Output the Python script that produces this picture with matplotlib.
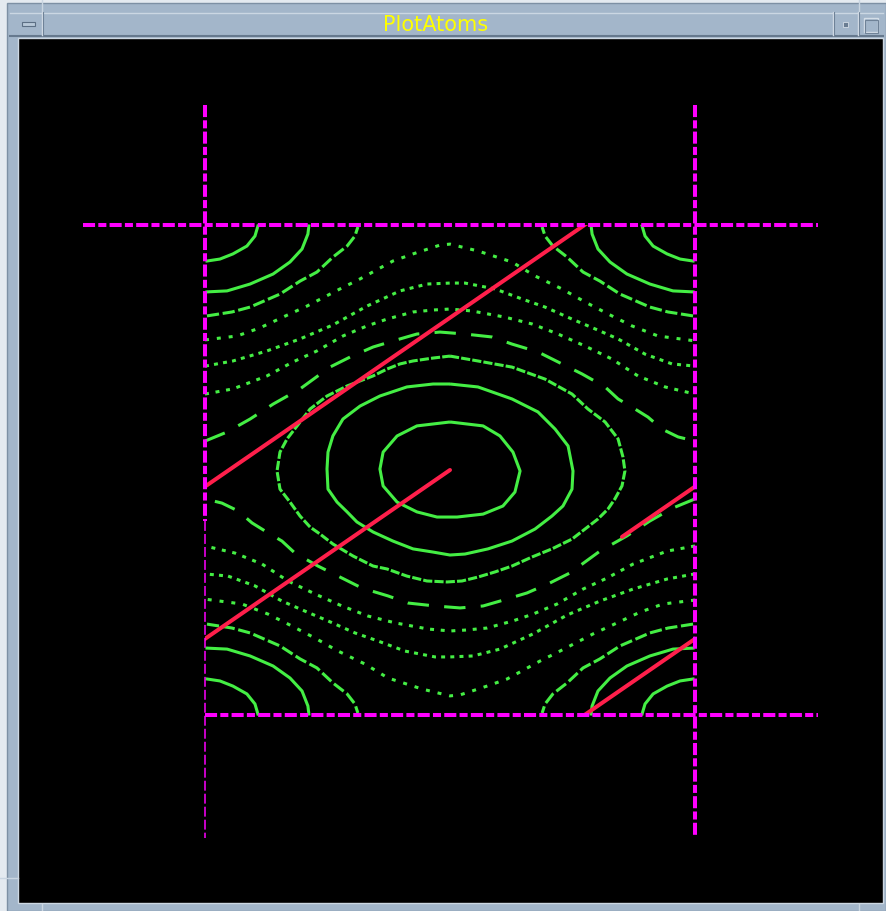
import numpy as np
import matplotlib.pyplot as plt
from matplotlib.patches import Rectangle

# phase plane, the periodic cell spans [-1, 1] x [-1, 1]
inner_ring = [(0.0, 0.196), (0.135, 0.180), (0.204, 0.139), (0.257, 0.073), (0.286, -0.004),
              (0.265, -0.090), (0.216, -0.147), (0.135, -0.180), (0.029, -0.192), (-0.053, -0.192),
              (-0.135, -0.171), (-0.216, -0.131), (-0.273, -0.065), (-0.286, 0.004), (-0.273, 0.073),
              (-0.216, 0.139), (-0.135, 0.180), (0.0, 0.196)]

middle_ring = [(0.0, 0.351), (0.114, 0.339), (0.253, 0.290), (0.359, 0.237), (0.429, 0.167),
               (0.482, 0.098), (0.502, -0.004), (0.498, -0.078), (0.461, -0.147), (0.416, -0.188),
               (0.347, -0.241), (0.253, -0.290), (0.155, -0.322), (0.061, -0.343), (0.0, -0.347),
               (-0.069, -0.335), (-0.151, -0.322), (-0.233, -0.290), (-0.314, -0.253), (-0.380, -0.212),
               (-0.420, -0.171), (-0.461, -0.131), (-0.498, -0.078), (-0.502, 0.004), (-0.498, 0.073),
               (-0.478, 0.139), (-0.437, 0.208), (-0.367, 0.261), (-0.286, 0.302), (-0.176, 0.339),
               (-0.069, 0.351), (0.0, 0.351)]

outer_ring = [(0.0, 0.465), (0.114, 0.445), (0.253, 0.420), (0.388, 0.371), (0.498, 0.310),
              (0.563, 0.249), (0.633, 0.196), (0.686, 0.127), (0.706, 0.053), (0.714, -0.004),
              (0.702, -0.065), (0.673, -0.118), (0.645, -0.159), (0.604, -0.200), (0.551, -0.241),
              (0.498, -0.282), (0.416, -0.322), (0.335, -0.355), (0.253, -0.392), (0.184, -0.416),
              (0.114, -0.437), (0.049, -0.453), (-0.012, -0.457), (-0.094, -0.453), (-0.176, -0.433),
              (-0.257, -0.404), (-0.314, -0.392), (-0.396, -0.351), (-0.478, -0.302), (-0.531, -0.261),
              (-0.571, -0.233), (-0.612, -0.188), (-0.653, -0.131), (-0.694, -0.078), (-0.706, -0.004),
              (-0.694, 0.073), (-0.665, 0.127), (-0.624, 0.180), (-0.571, 0.249), (-0.502, 0.302),
              (-0.420, 0.343), (-0.314, 0.384), (-0.257, 0.412), (-0.204, 0.433), (-0.151, 0.445),
              (-0.069, 0.457), (0.0, 0.465)]

# rotating orbits, upper half
upper_1 = [(-1.0, 0.531), (-0.869, 0.547), (-0.776, 0.580), (-0.682, 0.624), (-0.584, 0.669),
           (-0.449, 0.739), (-0.367, 0.780), (-0.233, 0.853), (-0.151, 0.882), (-0.041, 0.918),
           (0.0, 0.922), (0.114, 0.894), (0.253, 0.849), (0.347, 0.792), (0.457, 0.739),
           (0.551, 0.686), (0.645, 0.637), (0.743, 0.588), (0.849, 0.547), (1.0, 0.527)]
upper_2 = [(-1.0, 0.424), (-0.886, 0.445), (-0.747, 0.486), (-0.612, 0.535), (-0.478, 0.592),
           (-0.339, 0.669), (-0.204, 0.731), (-0.094, 0.759), (0.0, 0.763), (0.061, 0.763),
           (0.184, 0.739), (0.294, 0.698), (0.388, 0.665), (0.498, 0.616), (0.592, 0.576),
           (0.686, 0.535), (0.796, 0.473), (0.906, 0.433), (1.0, 0.424)]
upper_3 = [(-1.0, 0.310), (-0.886, 0.331), (-0.747, 0.384), (-0.641, 0.441), (-0.543, 0.486),
           (-0.437, 0.547), (-0.339, 0.588), (-0.257, 0.616), (-0.151, 0.645), (-0.069, 0.653),
           (0.0, 0.657), (0.090, 0.649), (0.224, 0.624), (0.335, 0.596), (0.441, 0.555),
           (0.551, 0.506), (0.661, 0.453), (0.767, 0.384), (0.878, 0.339), (1.0, 0.310)]
upper_4 = [(-1.0, 0.118), (-0.910, 0.155), (-0.816, 0.208), (-0.722, 0.269), (-0.612, 0.331),
           (-0.490, 0.420), (-0.408, 0.461), (-0.314, 0.502), (-0.204, 0.535), (-0.135, 0.555),
           (-0.041, 0.563), (0.061, 0.555), (0.171, 0.543), (0.253, 0.514), (0.359, 0.482),
           (0.457, 0.433), (0.539, 0.392), (0.633, 0.339), (0.686, 0.290), (0.755, 0.249),
           (0.808, 0.216), (0.865, 0.167), (0.931, 0.135), (1.0, 0.118)]

# rotating orbits, lower half
lower_1 = [(1.0, -0.531), (0.869, -0.547), (0.776, -0.580), (0.682, -0.624), (0.584, -0.669),
           (0.449, -0.739), (0.367, -0.780), (0.233, -0.853), (0.151, -0.882), (0.041, -0.918),
           (0.0, -0.922), (-0.114, -0.894), (-0.253, -0.849), (-0.347, -0.792), (-0.457, -0.739),
           (-0.551, -0.686), (-0.645, -0.637), (-0.743, -0.588), (-0.849, -0.547), (-1.0, -0.527)]
lower_2 = [(1.0, -0.424), (0.886, -0.445), (0.747, -0.486), (0.612, -0.535), (0.478, -0.592),
           (0.339, -0.669), (0.204, -0.731), (0.094, -0.759), (0.0, -0.763), (-0.061, -0.763),
           (-0.184, -0.739), (-0.294, -0.698), (-0.388, -0.665), (-0.498, -0.616), (-0.592, -0.576),
           (-0.686, -0.535), (-0.796, -0.473), (-0.906, -0.433), (-1.0, -0.424)]
lower_3 = [(1.0, -0.310), (0.886, -0.331), (0.747, -0.384), (0.641, -0.441), (0.543, -0.486),
           (0.437, -0.547), (0.339, -0.588), (0.257, -0.616), (0.151, -0.645), (0.069, -0.653),
           (0.0, -0.657), (-0.090, -0.649), (-0.224, -0.624), (-0.335, -0.596), (-0.441, -0.555),
           (-0.551, -0.506), (-0.661, -0.453), (-0.767, -0.384), (-0.878, -0.339), (-1.0, -0.310)]
lower_4 = [(1.0, -0.118), (0.910, -0.155), (0.816, -0.208), (0.722, -0.269), (0.612, -0.331),
           (0.490, -0.420), (0.408, -0.461), (0.314, -0.502), (0.204, -0.535), (0.135, -0.555),
           (0.041, -0.563), (-0.061, -0.555), (-0.171, -0.543), (-0.253, -0.514), (-0.359, -0.482),
           (-0.457, -0.433), (-0.539, -0.392), (-0.633, -0.339), (-0.686, -0.290), (-0.755, -0.249),
           (-0.808, -0.216), (-0.865, -0.167), (-0.931, -0.135), (-1.0, -0.118)]

# islands around the cell corners, given as (inset from side, inset from top/bottom)
corner_1 = [(0.008, 0.147), (0.061, 0.139), (0.114, 0.118), (0.171, 0.086), (0.204, 0.045),
            (0.216, 0.004)]
corner_2 = [(0.008, 0.273), (0.090, 0.269), (0.184, 0.241), (0.278, 0.200), (0.347, 0.151),
            (0.396, 0.098), (0.420, 0.037), (0.424, 0.004)]
corner_3 = [(0.008, 0.371), (0.110, 0.355), (0.184, 0.335), (0.306, 0.282), (0.388, 0.229),
            (0.457, 0.192), (0.522, 0.131), (0.580, 0.086), (0.612, 0.045), (0.624, 0.008)]

# line of initial conditions, unwrapped, plus the cell shifts it passes through
seed_start = (0.0, 0.0)
seed_end = (-3.298, -2.273)
seed_shifts = [(0, 0), (2, 0), (2, 2), (4, 2)]

GREEN = '#44ee44'
RED = '#ff1f4b'
MAGENTA = '#ff00ff'

fig = plt.figure(figsize=(8.86, 9.12), dpi=100)

# window decoration, in pixel units
chrome = fig.add_axes([0, 0, 1, 1])
chrome.set_xlim(0, 886)
chrome.set_ylim(912, 0)
chrome.axis('off')
chrome.add_patch(Rectangle((0, 0), 886, 912, fc='#e4eaf0', ec='none'))
chrome.add_patch(Rectangle((7, 4), 879, 908, fc='#a3b6ca', ec='#7d90a4', lw=1))
chrome.add_patch(Rectangle((10, 13), 873, 24, fc='#a3b6ca', ec='none'))
chrome.plot([10, 883], [13.5, 13.5], color='#cbd7e3', lw=1)
chrome.plot([10, 883], [36.5, 36.5], color='#66798e', lw=1.5)
chrome.add_patch(Rectangle((18, 39), 865, 865, fc='black', ec='#cdd8e3', lw=1))
for xv in (42, 833, 858):
    chrome.plot([xv, xv], [13, 36], color='#d4dee8', lw=1)
    chrome.plot([xv + 1.2, xv + 1.2], [13, 36], color='#6f8297', lw=0.8)
for xv in (42, 859):
    chrome.plot([xv, xv], [0, 12], color='#c9d5e1', lw=1)
    chrome.plot([xv, xv], [905, 912], color='#c9d5e1', lw=1)
chrome.plot([0, 18], [879, 879], color='#c9d5e1', lw=1)
chrome.add_patch(Rectangle((22, 23), 13, 4, fc='#b8c8d8', ec='#5c6f84', lw=0.8))
chrome.add_patch(Rectangle((843, 23), 5, 5, fc='#6a7d92', ec='#d4dee8', lw=0.6))
chrome.add_patch(Rectangle((864, 19), 14, 14, fc='none', ec='#d4dee8', lw=1))
chrome.add_patch(Rectangle((865.5, 20.5), 13, 13, fc='none', ec='#6f8297', lw=0.8))
chrome.text(436, 25, 'PlotAtoms', color='#ffff00', fontsize=15, ha='center', va='center',
            family=['Liberation Sans Narrow', 'DejaVu Sans'])

# phase plane
ax = fig.add_axes([82.5 / 886, (912 - 838.5) / 912, 735 / 886, 735 / 912])
ax.set_xlim(-1.5, 1.5)
ax.set_ylim(-1.5, 1.5)
ax.axis('off')

def draw(points, style, lw=2.2):
    pts = np.array(points)
    ax.plot(pts[:, 0], pts[:, 1], color=GREEN, lw=lw, linestyle=style,
            solid_capstyle='butt', dash_capstyle='butt')

draw(inner_ring, '-')
draw(middle_ring, '-')
draw(outer_ring, (0, (3, 0.7)))
for curve in (upper_1, lower_1):
    draw(curve, (0, (1.3, 2.6)))
for curve in (upper_2, lower_2):
    draw(curve, (0, (1.3, 1.7)))
for curve in (upper_3, lower_3):
    draw(curve, (0, (1.3, 2.2)))
for curve in (upper_4, lower_4):
    draw(curve, (0, (7, 5)))

for arc, style in ((corner_1, '-'), (corner_2, '-'), (corner_3, (0, (4, 1.2)))):
    a = np.array(arc)
    for sx in (-1, 1):
        for sy in (-1, 1):
            ax.plot(sx * (1 - a[:, 0]), sy * (1 - a[:, 1]), color=GREEN, lw=2.2,
                    linestyle=style, dash_capstyle='butt')

# seed line wrapped onto the cell
cell = Rectangle((-1, -1), 2, 2, transform=ax.transData)
for dx, dy in seed_shifts:
    ln, = ax.plot([seed_start[0] + dx, seed_end[0] + dx], [seed_start[1] + dy, seed_end[1] + dy],
                  color=RED, lw=2.9, solid_capstyle='round')
    ln.set_clip_path(cell)

# cell boundaries
dash = (0, (3, 0.8, 2, 0.8))
ax.plot([-1.5, 1.5], [1, 1], color=MAGENTA, lw=2.9, linestyle=dash)
ax.plot([-1, 1.5], [-1, -1], color=MAGENTA, lw=2.9, linestyle=dash)
ax.plot([1, 1], [1.49, -1.5], color=MAGENTA, lw=2.9, linestyle=dash)
ax.plot([-1, -1], [1.49, -0.21], color=MAGENTA, lw=2.9, linestyle=dash)
ax.plot([-1, -1], [-0.21, -1.5], color=MAGENTA, lw=1.1, linestyle=(0, (6.5, 2)))

fig.savefig('out.png', dpi=100, facecolor='black')
